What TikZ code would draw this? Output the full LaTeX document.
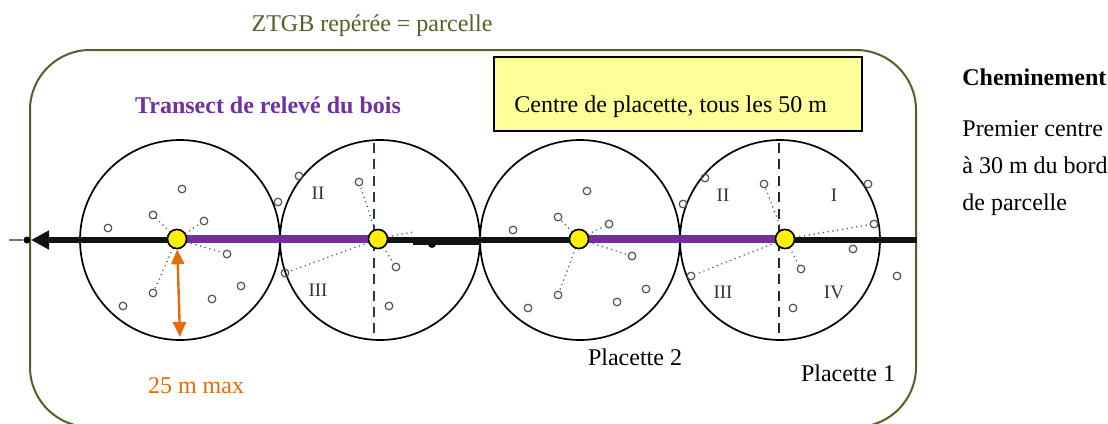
\documentclass[tikz,border=0pt]{standalone}
\usepackage{fontspec}
\setmainfont{Liberation Serif}
\usetikzlibrary{arrows.meta,positioning,calc}
\definecolor{zgreen}{RGB}{79,98,40}
\definecolor{zpurple}{RGB}{112,48,160}
\definecolor{zorange}{RGB}{228,108,10}
\definecolor{zyellow}{RGB}{255,255,153}
\definecolor{znavy}{RGB}{31,56,100}
\definecolor{ztree}{RGB}{80,80,80}
\tikzset{
  zone/.style={draw=zgreen, line width=1pt, rounded corners=30pt},
  plot/.style={draw=black, circle, line width=0.85pt, minimum size=100pt, inner sep=0pt},
  ctr/.style={draw=black, fill=yellow, circle, line width=0.75pt, minimum size=9.5pt, inner sep=0pt},
  tree/.style={draw=ztree, circle, line width=0.6pt, minimum size=3.8pt, inner sep=0pt},
  ray/.style={draw=black!65, line width=0.85pt, line cap=round, dash pattern=on 0pt off 2.4pt},
  track/.style={draw=black!93, line width=3.4pt},
  walk/.style={draw=zpurple, line width=3.6pt},
  axis/.style={line width=0.6pt, dash pattern=on 5pt off 3.2pt},
  reach/.style={{Triangle[length=7.5pt,width=6.5pt]}-{Triangle[length=7.5pt,width=6.5pt]}, draw=zorange, fill=zorange, line width=1.2pt},
  quad/.style={font=\fontsize{9.5}{11}\selectfont, text=black!80},
  lbl/.style={font=\fontsize{12}{14}\selectfont, inner sep=0pt},
  legend/.style={draw=black, fill=zyellow, line width=1pt, minimum width=184pt, minimum height=37pt, inner sep=0pt}
}

\begin{document}
\begin{tikzpicture}[x=0.5pt,y=-0.5pt]
  \useasboundingbox (0,0) rectangle (1108,423);
  % parcelle
  \draw[zone] (30,50) rectangle (916,427);
  \node[lbl, text=zgreen] (ztgb) at (372,26) {ZTGB repérée = parcelle};
  \node[lbl, text=zpurple, font=\fontsize{12}{14}\selectfont\bfseries] (transect) at (268,105) {Transect de relevé du bois};
  \node[legend] (cbox) at (678,94) {};
  \node[lbl, anchor=west] (ctext) at (514,107) {Centre de placette, tous les 50 m};
  \node[lbl, anchor=west, font=\fontsize{12}{14}\selectfont\bfseries] (chem) at (962,77) {Cheminement};
  \node[lbl, anchor=west, align=left, font=\fontsize{12}{18.5}\selectfont] (first) at (962,168) {Premier centre\\à 30 m du bord\\de parcelle};

  % placettes
  \foreach \i/\x in {1/180,2/380,3/580,4/780}
    \node[plot] (p\i) at (\x,240) {};
  \coordinate (ax2top) at (374,143);
  \coordinate (ax2bot) at (374,338);
  \coordinate (ax4top) at (779,143);
  \coordinate (ax4bot) at (779,338);
  \draw[axis, draw=znavy] (ax2top) -- (ax2bot);
  \draw[axis, draw=black!85] (ax4top) -- (ax4bot);
  \node[quad] (q2b) at (318,193) {II};
  \node[quad] (q2c) at (318,290) {III};
  \node[quad] (q4a) at (834,195) {I};
  \node[quad] (q4b) at (723,195) {II};
  \node[quad] (q4c) at (723,292) {III};
  \node[quad] (q4d) at (834,292) {IV};

  % arbres
  \foreach \n/\x/\y in {1a/182/189,1b/153/215,1c/204/221,1d/108/228,1e/227/254,1f/153/293,1g/123/306,1h/212/299,1i/241/286,
                        2a/278/202,2b/299/176,2c/359/182,2d/285/273,2e/396/267,2f/389/306,
                        3a/587/191,3b/558/217,3c/609/224,3d/513/230,3e/632/256,3f/558/295,3g/528/308,3h/617/302,3i/646/289,
                        4a/683/204,4b/705/178,4c/764/184,4d/868/184,4e/874/224,4f/853/249,4g/691/276,4h/801/269,4i/793/308,4j/897/276}
    \node[tree] (t\n) at (\x,\y) {};
  \coordinate (t2x) at (413,232);

  % centres
  \node[ctr] (c1) at (177,239) {};
  \node[ctr] (c2) at (378,239) {};
  \node[ctr] (c3) at (579,239) {};
  \node[ctr] (c4) at (785,239) {};

  % cheminement
  \coordinate (east) at (917,240);
  \coordinate (west) at (31,240);
  \coordinate (stub) at (9,240);
  \coordinate (kink) at (413,243.5);
  \coordinate (kinkend) at (480,243.5);
  \node[circle, fill=black, inner sep=0pt, minimum size=3.5pt] (edge) at (27,240) {};
  \node[circle, fill=black, inner sep=0pt, minimum size=4pt] (knot) at (432,244) {};
  \draw[draw=black!55, line width=0.8pt] (stub) -- (edge);
  \draw[track, -{Triangle[length=9pt,width=9pt]}] (east) -- (west);
  \draw[track, line width=1.6pt] (kink) -- (kinkend);
  \draw[walk] (c1) -- (c2);
  \draw[walk] (c3) -- (c4);

  \foreach \c/\t in {c1/1b,c1/1c,c1/1e,c1/1f,c2/2c,c2/2d,c2/2e,c2/2x,c3/3b,c3/3c,c3/3e,c3/3f,c4/4c,c4/4e,c4/4g,c4/4h}
    \draw[ray] (\c) -- (t\t);
  \foreach \i in {1,2,3,4}
    \node[ctr] at (c\i) {};

  % rayon
  \coordinate (rbot) at (180,337);
  \draw[reach] (c1) -- (rbot);
  \node[lbl, text=zorange] (rmax) at (196,386) {25 m max};
  \node[lbl] (pl2) at (635,357) {Placette 2};
  \node[lbl] (pl1) at (848,373) {Placette 1};
\end{tikzpicture}
\end{document}
